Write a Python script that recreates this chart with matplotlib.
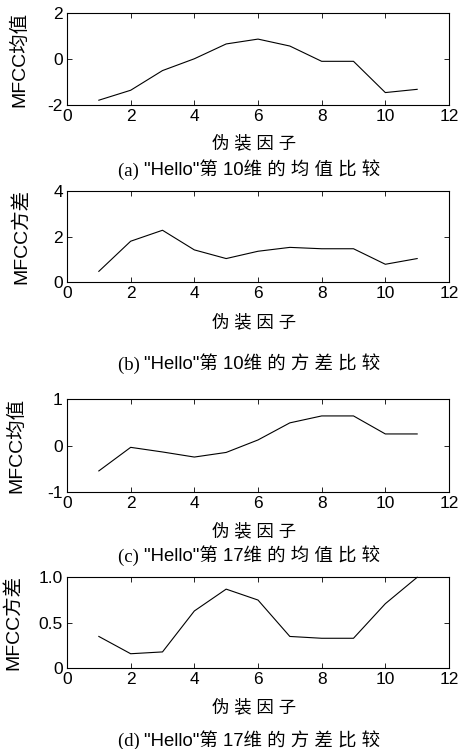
import numpy as np
import matplotlib
matplotlib.use('Agg')
import matplotlib.pyplot as plt

plt.rcParams['font.family'] = ['Liberation Sans', 'Noto Sans CJK SC']
plt.rcParams['axes.linewidth'] = 0.8

factor = [1, 2, 3, 4, 5, 6, 7, 8, 9, 10, 11]

mean_10 = [-1.78, -1.35, -0.50, 0.01, 0.65, 0.86, 0.56, -0.10, -0.10, -1.45, -1.31]
var_10 = [0.48, 1.80, 2.28, 1.42, 1.04, 1.36, 1.53, 1.47, 1.47, 0.79, 1.04]
mean_17 = [-0.55, -0.04, -0.14, -0.25, -0.15, 0.12, 0.49, 0.64, 0.64, 0.25, 0.25]
var_17 = [0.35, 0.16, 0.18, 0.63, 0.87, 0.75, 0.35, 0.33, 0.33, 0.71, 1.00]

xticks = [0, 2, 4, 6, 8, 10, 12]
ylims = [(-2, 2), (0, 4), (-1, 1), (0, 1)]
yticks = [[-2, 0, 2], [0, 2, 4], [-1, 0, 1], [0, 0.5, 1.0]]
ytick_labels = [['-2', '0', '2'], ['0', '2', '4'], ['-1', '0', '1'], ['0', '0.5', '1.0']]
ylabels = ['MFCC均值', 'MFCC方差', 'MFCC均值', 'MFCC方差']
xlabel = '伪 装 因 子'
cap_tags = ['(a) ', '(b) ', '(c) ', '(d) ']
cap_texts = ['"Hello"第 10维 的 均 值 比 较',
             '"Hello"第 10维 的 方 差 比 较',
             '"Hello"第 17维 的 均 值 比 较',
             '"Hello"第 17维 的 方 差 比 较']
series = [mean_10, var_10, mean_17, var_17]

W, H = 469, 749
fig = plt.figure(figsize=(W / 100, H / 100), dpi=100)
renderer = fig.canvas.get_renderer()

# axes boxes in pixels: top, bottom
boxes = [(12.7, 105.3), (191, 282.3), (399.3, 491.7), (577.3, 668.3)]
ylabel_x = [28, 30, 25, 21.7]
xlabel_y = [143, 321.7, 531, 706.7]
caption_y = [171, 365, 557, 741.7]
left, right = 67, 449

for i in range(4):
    top, bot = boxes[i]
    ax = fig.add_axes([left / W, 1 - bot / H, (right - left) / W, (bot - top) / H])
    ax.plot(factor, series[i], 'k-', lw=0.8, clip_on=False)
    ax.set_xlim(0, 12)
    ax.set_ylim(*ylims[i])
    ax.set_xticks(xticks)
    ax.set_yticks(yticks[i])
    ax.set_yticklabels(ytick_labels[i])
    ax.tick_params(direction='in', length=3.5, width=0.6, top=True, right=True,
                   labelsize=12.5, pad=3)
    ax.set_ylabel(ylabels[i], fontsize=14)
    ax.yaxis.set_label_coords((ylabel_x[i] - left) / (right - left), 0.5)
    fig.text(254 / W, 1 - xlabel_y[i] / H, xlabel, fontsize=12.5, ha='center', va='center')

    # caption: serif tag followed by sans text, centred as a whole
    t1 = fig.text(0, 1 - caption_y[i] / H, cap_tags[i], fontsize=13.5, va='center',
                  family=['Liberation Serif', 'Noto Sans CJK SC'])
    t2 = fig.text(0, 1 - caption_y[i] / H, cap_texts[i], fontsize=13.3, va='center')
    w1 = t1.get_window_extent(renderer).width
    w2 = t2.get_window_extent(renderer).width
    x0 = 249 - (w1 + w2) / 2
    t1.set_x(x0 / W)
    t2.set_x((x0 + w1) / W)

fig.savefig('out.png', dpi=100)
